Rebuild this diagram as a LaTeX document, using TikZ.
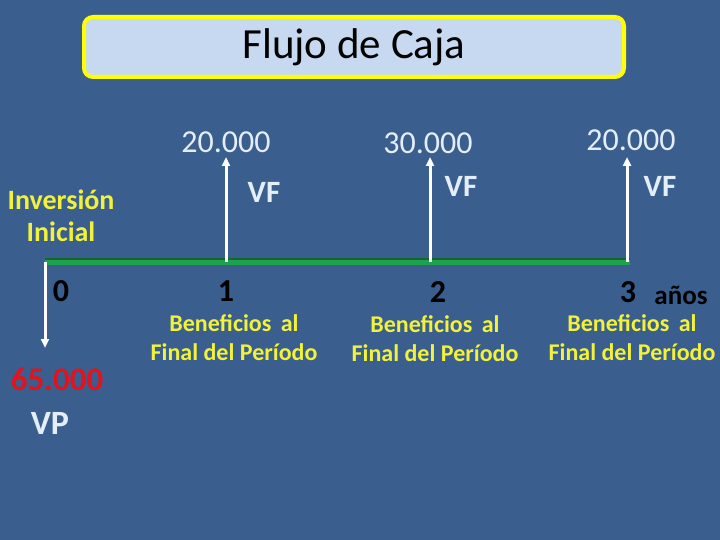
\documentclass[tikz,border=0pt]{standalone}
\usepackage{fontspec}
\setmainfont{Carlito}
\usetikzlibrary{arrows.meta,positioning}
\definecolor{FCBlue}{HTML}{3A5E8E}
\definecolor{FCPale}{HTML}{C6D9F0}
\definecolor{FCYellow}{HTML}{FFFF00}
\definecolor{FCText}{HTML}{E4EEF8}
\definecolor{FCLabel}{HTML}{F2F23A}
\definecolor{FCRed}{HTML}{E0141E}
\definecolor{FCGreen}{HTML}{1FA24C}
\definecolor{FCGreenDark}{HTML}{146632}
\tikzset{
  fctitle/.style={
    draw=FCYellow,
    fill=FCPale,
    line width=4pt,
    rounded corners=9pt,
    minimum width=540pt,
    minimum height=60pt,
    font=\fontsize{43}{46}\selectfont,
    text=black
  },
  fcamount/.style={font=\fontsize{32}{35}\selectfont,text=FCText},
  fcvf/.style={font=\bfseries\fontsize{31}{34}\selectfont,text=FCText},
  fctick/.style={font=\bfseries\fontsize{32}{35}\selectfont,text=black},
  fcnote/.style={font=\bfseries\fontsize{24}{29}\selectfont,text=FCLabel,align=center},
  fcflow/.style={-{Triangle[length=9pt,width=8pt]},draw=white,line width=3pt},
  fcaxis/.style={draw=FCGreen,line width=5pt}
}

\begin{document}
\begin{tikzpicture}[x=1pt,y=-1pt]
  \fill[FCBlue] (0,0) rectangle (720,540);
  \useasboundingbox (0,0) rectangle (720,540);

  \node[fctitle] (title) at (354,47) {Flujo de Caja};

  % time line
  \coordinate (p0) at (45,262);
  \coordinate (p1) at (226,262);
  \coordinate (p2) at (430,262);
  \coordinate (p3) at (627,262);
  \draw[FCGreenDark,line width=6pt] ([yshift=1.5pt]p0) -- ([yshift=1.5pt,xshift=3pt]p3);
  \draw[fcaxis] (p0) -- ([xshift=3pt]p3);

  % cash flows
  \coordinate (a0) at (45,348);
  \coordinate (a1) at (226,157);
  \coordinate (a2) at (430,157);
  \coordinate (a3) at (627,157);
  \draw[fcflow] (p0) -- (a0);
  \draw[fcflow] (p1) -- (a1);
  \draw[fcflow] (p2) -- (a2);
  \draw[fcflow] (p3) -- (a3);

  \node[fcamount] (amt1) at (226,142) {20.000};
  \node[fcamount] (amt2) at (428,143) {30.000};
  \node[fcamount] (amt3) at (631,140) {20.000};
  \node[fcvf] (vf1) at (264,192) {VF};
  \node[fcvf] (vf2) at (461,186) {VF};
  \node[fcvf] (vf3) at (660,186) {VF};

  \node[fcnote,font=\bfseries\fontsize{28}{32}\selectfont] (inv) at (61,216) {Inversión\\Inicial};
  \node[fcamount,font=\bfseries\fontsize{33}{36}\selectfont,text=FCRed] (vp) at (57,379) {65.000};
  \node[fcamount,font=\bfseries\fontsize{34}{37}\selectfont] (vplab) at (50,423) {VP};

  \node[fctick] (t0) at (61,291) {0};
  \node[fctick] (t1) at (226,291) {1};
  \node[fctick] (t2) at (438,292) {2};
  \node[fctick] (t3) at (628,292) {3};
  \node[font=\bfseries\fontsize{27}{30}\selectfont,text=black] (anos) at (681,295) {años};

  \node[fcnote] (ben1) at (234,338) {Beneficios\, al\\Final del Período};
  \node[fcnote] (ben2) at (435,339) {Beneficios\, al\\Final del Período};
  \node[fcnote] (ben3) at (632,338) {Beneficios\, al\\Final del Período};
\end{tikzpicture}
\end{document}
